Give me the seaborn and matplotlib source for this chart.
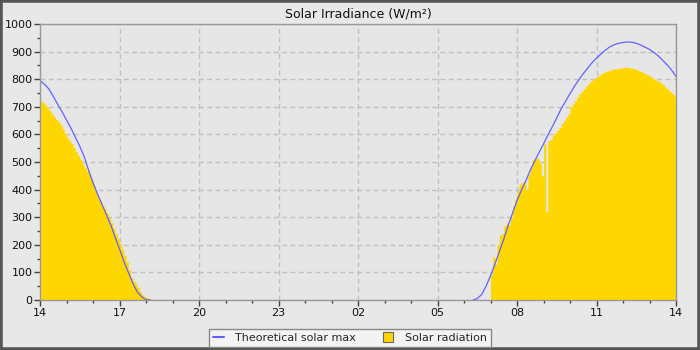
import numpy as np
import pandas as pd
import seaborn as sns
import matplotlib.pyplot as plt
from matplotlib.lines import Line2D
from matplotlib.patches import Rectangle
from matplotlib.ticker import MultipleLocator

# ---------------- data ----------------
# Solar radiation, 5-minute readings starting 14:00 (afternoon)
rad_pm = [720, 716, 707, 697, 686, 675, 664, 654, 647, 635,
          619, 603, 588, 578, 567, 552, 537, 523, 510, 495,
          479, 468, 458, 440, 415, 395, 375, 358, 342, 330,
          316, 298, 280, 260, 240, 222, 204, 183, 161, 139,
          110, 82, 70, 58, 46, 30, 19, 13, 9, 5,
          2, 0]
# Solar radiation, 5-minute readings starting 07:00 (next morning)
rad_am = [95, 157, 130, 200, 235, 240, 268, 279, 272, 300,
          340, 365, 395, 420, 425, 429, 400, 453, 480, 508,
          512, 514, 497, 450, 565, 320, 577, 582, 598, 605,
          615, 625, 640, 650, 662, 675, 700, 710, 722, 735,
          748, 757, 765, 775, 784, 792, 798, 805, 810, 815,
          822, 825, 828, 830, 834, 836, 837, 838, 840, 840,
          842, 843, 842, 840, 840, 837, 834, 830, 828, 823,
          818, 815, 810, 805, 798, 795, 790, 786, 778, 770,
          762, 755, 748, 740]
# Theoretical solar max, 10-minute readings from 14:00
tmax_pm = [795, 782, 765, 738, 709, 682, 652, 623, 590, 557,
           520, 470, 425, 385, 348, 310, 273, 228, 185, 140,
           100, 62, 30, 12, 1, 0]
# Theoretical solar max, 10-minute readings from 06:20
tmax_am = [0, 5, 20, 50, 88, 130, 175, 220, 270, 315,
           360, 398, 432, 470, 503, 535, 565, 598, 628, 660,
           693, 720, 748, 774, 798, 820, 840, 860, 876, 891,
           905, 917, 925, 930, 933, 935, 934, 930, 924, 916,
           908, 897, 884, 868, 852, 833, 810]
tick_labels = ["14", "17", "20", "23", "02", "05", "08", "11", "14"]
series_names = ["Theoretical solar max", "Solar radiation"]

# ---------------- build tables (hours since 14:00) ----------------
step5 = 5 / 60
n_gap = int(round((17 - len(rad_pm) * step5) / step5))
rad = np.array(rad_pm + [0] * n_gap + rad_am, dtype=float)
centers = (np.arange(len(rad)) + 0.5) * step5
df_rad = pd.DataFrame({"t": centers, "v": rad})

step10 = 10 / 60
df_pm = pd.DataFrame({"t": np.arange(len(tmax_pm)) * step10, "v": tmax_pm})
df_am = pd.DataFrame({"t": 16 + 20 / 60 + np.arange(len(tmax_am)) * step10, "v": tmax_am})

# ---------------- plot ----------------
sns.set_theme(style="ticks")
plt.rcParams["font.family"] = ["DejaVu Sans"]

bg = "#e6e6e6"
fig = plt.figure(figsize=(7, 3.5), dpi=100, facecolor="#e8e8e8")
ax = fig.add_axes([40 / 700, 50 / 350, 636 / 700, 276 / 350])
ax.set_facecolor(bg)

sns.histplot(data=df_rad, x="t", weights="v", bins=len(rad),
             binrange=(0, len(rad) * step5), element="step",
             fill=True, color="#FFD700", alpha=1, linewidth=0, ax=ax)
line_col = "#6262ff"
sns.lineplot(data=df_pm, x="t", y="v", color=line_col, linewidth=0.9, ax=ax)
sns.lineplot(data=df_am, x="t", y="v", color=line_col, linewidth=0.9, ax=ax)

ax.set_xlim(0, 24)
ax.set_ylim(0, 1000)
ax.set_xticks(np.arange(0, 25, 3))
ax.set_xticklabels(tick_labels)
ax.set_yticks(np.arange(0, 1001, 100))
ax.xaxis.set_minor_locator(MultipleLocator(1))
ax.yaxis.set_minor_locator(MultipleLocator(50))
ax.set_xlabel("")
ax.set_ylabel("")
ax.grid(which="major", color="#c0c0c0", linewidth=1, linestyle=(0, (3.5, 2.5)))
ax.set_axisbelow(True)
for s in ax.spines.values():
    s.set_color("#999999")
    s.set_linewidth(1)
ax.tick_params(which="major", length=4, width=1, color="#444444",
               labelsize=8, labelcolor="#111111", pad=1.5)
ax.tick_params(which="minor", length=2.5, width=1, color="#444444")

ax.set_title("Solar Irradiance (W/m²)", fontsize=9, color="#111111", pad=5)

handles = [Line2D([], [], color=line_col, linewidth=1.5),
           Line2D([], [], marker="s", linestyle="None", markersize=6.5,
                  markerfacecolor="#FFD700", markeredgecolor="#666666", markeredgewidth=0.8)]
leg = fig.legend(handles, series_names, loc="lower center", bbox_to_anchor=(0.5, 3 / 350),
                 borderaxespad=0, ncol=2, frameon=True, fancybox=False, edgecolor="#888888",
                 facecolor="#f3f3f3", framealpha=1, fontsize=8, borderpad=0.35,
                 handlelength=1.0, handletextpad=1.0, columnspacing=2.4)
leg.get_frame().set_linewidth(1)

fig.patches.append(Rectangle((0, 0), 1, 1, transform=fig.transFigure, fill=False,
                             edgecolor="#555555", linewidth=4))

fig.savefig("out.png", dpi=100, facecolor=fig.get_facecolor())
